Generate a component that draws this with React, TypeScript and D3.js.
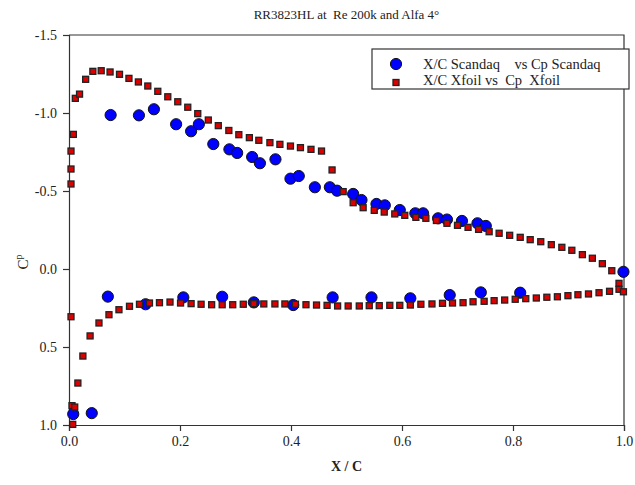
import React, { useEffect, useRef } from 'react';
import * as d3 from 'd3';

// Scandaq measurements (X/C, Cp)
const scandaqX = [0.075, 0.126, 0.153, 0.193, 0.220, 0.234, 0.260, 0.289, 0.303, 0.330, 0.344, 0.372, 0.399, 0.414, 0.443, 0.470, 0.483, 0.512, 0.527, 0.554, 0.569, 0.596, 0.624, 0.638, 0.665, 0.681, 0.708, 0.736, 0.751, 0.999,
  0.0076, 0.041, 0.070, 0.138, 0.206, 0.276, 0.333, 0.404, 0.475, 0.545, 0.615, 0.686, 0.742, 0.813];
const scandaqCp = [-0.987, -0.985, -1.024, -0.928, -0.883, -0.928, -0.801, -0.767, -0.744, -0.718, -0.678, -0.703, -0.579, -0.596, -0.524, -0.524, -0.502, -0.481, -0.442, -0.417, -0.408, -0.378, -0.357, -0.357, -0.325, -0.317, -0.308, -0.293, -0.276, 0.018,
  0.93, 0.924, 0.177, 0.226, 0.182, 0.178, 0.214, 0.231, 0.182, 0.182, 0.188, 0.167, 0.15, 0.152];

// Xfoil prediction (X/C, Cp)
const xfoilX = [0.0036, 0.0036, 0.0036, 0.0079, 0.0114, 0.019, 0.030, 0.043, 0.058, 0.074, 0.091, 0.108, 0.125, 0.142, 0.160, 0.178, 0.196, 0.214, 0.232, 0.251, 0.269, 0.288, 0.306, 0.325, 0.342, 0.362, 0.380, 0.399, 0.417, 0.436, 0.455, 0.474, 0.494, 0.512, 0.530, 0.550, 0.568, 0.587, 0.605, 0.625, 0.643, 0.662, 0.681, 0.700, 0.719, 0.738, 0.757, 0.775, 0.794, 0.813, 0.831, 0.850, 0.869, 0.888, 0.906, 0.925, 0.943, 0.961, 0.978, 0.991,
  0.0036, 0.0067, 0.0054, 0.0103, 0.016, 0.025, 0.038, 0.054, 0.072, 0.090, 0.109, 0.127, 0.145, 0.163, 0.182, 0.201, 0.220, 0.238, 0.257, 0.276, 0.295, 0.314, 0.333, 0.351, 0.371, 0.389, 0.408, 0.427, 0.446, 0.465, 0.484, 0.503, 0.523, 0.541, 0.559, 0.578, 0.596, 0.615, 0.634, 0.654, 0.673, 0.691, 0.710, 0.728, 0.748, 0.766, 0.785, 0.804, 0.823, 0.842, 0.861, 0.880, 0.899, 0.917, 0.936, 0.955, 0.974, 0.991, 0.999];
const xfoilCp = [-0.545, -0.641, -0.756, -0.863, -1.094, -1.121, -1.216, -1.267, -1.271, -1.263, -1.248, -1.222, -1.199, -1.173, -1.139, -1.104, -1.072, -1.037, -0.996, -0.955, -0.919, -0.888, -0.861, -0.842, -0.825, -0.810, -0.799, -0.788, -0.778, -0.767, -0.756, -0.635, -0.496, -0.425, -0.393, -0.376, -0.365, -0.353, -0.344, -0.331, -0.325, -0.311, -0.293, -0.280, -0.267, -0.254, -0.239, -0.229, -0.216, -0.203, -0.188, -0.175, -0.156, -0.139, -0.120, -0.092, -0.069, -0.034, 0.011, 0.092,
  0.306, 0.996, 0.876, 0.885, 0.731, 0.558, 0.429, 0.346, 0.293, 0.261, 0.239, 0.226, 0.218, 0.216, 0.212, 0.218, 0.222, 0.226, 0.229, 0.229, 0.229, 0.226, 0.222, 0.224, 0.224, 0.224, 0.226, 0.229, 0.231, 0.233, 0.237, 0.237, 0.237, 0.235, 0.235, 0.233, 0.233, 0.231, 0.226, 0.224, 0.220, 0.218, 0.216, 0.210, 0.207, 0.203, 0.199, 0.194, 0.190, 0.186, 0.181, 0.178, 0.171, 0.165, 0.160, 0.152, 0.143, 0.130, 0.146];

const xTicks = [0, 0.2, 0.4, 0.6, 0.8, 1.0];
const yTicks = [-1.5, -1.0, -0.5, 0, 0.5, 1.0];
const legendLabels = ['X/C Scandaq    vs Cp Scandaq', 'X/C Xfoil vs  Cp  Xfoil'];

export default function App() {
  const svgRef = useRef(null);

  useEffect(() => {
    const width = 635, height = 485;
    const left = 69, right = 624, top = 35, bottom = 425;
    const font = '"Liberation Serif", "Times New Roman", serif';
    const fmt = (d) => d3.format('.1f')(d).replace('\u2212', '-');

    const svg = d3.select(svgRef.current);
    svg.selectAll('*').remove();
    svg.attr('width', width).attr('height', height);

    const x = d3.scaleLinear().domain([0, 1]).range([left, right]);
    const y = d3.scaleLinear().domain([-1.5, 1.0]).range([top, bottom]);

    // frame (top and right)
    svg.append('path')
      .attr('d', `M${left},${top}H${right}V${bottom}`)
      .attr('fill', 'none').attr('stroke', '#333').attr('stroke-width', 1.2);

    const xAxis = svg.append('g').attr('transform', `translate(0,${bottom})`)
      .call(d3.axisBottom(x).tickValues(xTicks).tickFormat(fmt).tickSize(6).tickPadding(5));
    const yAxis = svg.append('g').attr('transform', `translate(${left},0)`)
      .call(d3.axisLeft(y).tickValues(yTicks).tickFormat(fmt).tickSize(6).tickPadding(6));
    [xAxis, yAxis].forEach(g => {
      g.select('.domain').attr('stroke', '#333').attr('stroke-width', 1.2);
      g.selectAll('line').attr('stroke', '#333').attr('stroke-width', 1.2);
      g.selectAll('text').attr('font-family', font).attr('font-size', 14).attr('fill', '#222');
    });
    yAxis.selectAll('text').attr('dy', '0.35em');

    // Scandaq circles
    svg.append('g').selectAll('circle')
      .data(scandaqX.map((d, i) => [d, scandaqCp[i]]))
      .join('circle')
      .attr('cx', d => x(d[0])).attr('cy', d => y(d[1])).attr('r', 5.6)
      .attr('fill', '#0000ff').attr('stroke', '#111').attr('stroke-width', 1);

    // Xfoil squares
    const s = 6;
    svg.append('g').selectAll('rect')
      .data(xfoilX.map((d, i) => [d, xfoilCp[i]]))
      .join('rect')
      .attr('x', d => x(d[0]) - s / 2).attr('y', d => y(d[1]) - s / 2)
      .attr('width', s).attr('height', s)
      .attr('fill', '#dd0000').attr('stroke', '#222').attr('stroke-width', 1.3);

    // title
    svg.append('text')
      .attr('x', (left + right) / 2).attr('y', 19)
      .attr('text-anchor', 'middle').attr('font-family', font).attr('font-size', 13).attr('fill', '#222')
      .style('white-space', 'pre')
      .text('RR3823HL at  Re 200k and Alfa 4°');

    // x label
    svg.append('text')
      .attr('x', (left + right) / 2).attr('y', 471)
      .attr('text-anchor', 'middle').attr('font-family', font).attr('font-size', 14).attr('font-weight', 'bold').attr('fill', '#222')
      .style('white-space', 'pre')
      .text('X / C');

    // y label
    const yl = svg.append('text')
      .attr('transform', 'translate(28,262) rotate(-90)')
      .attr('text-anchor', 'middle').attr('font-family', font).attr('font-size', 15).attr('fill', '#222');
    yl.append('tspan').text('C');
    yl.append('tspan').attr('font-size', 10).attr('dy', -6).text('p');

    // legend
    const lg = svg.append('g');
    lg.append('rect').attr('x', 372).attr('y', 49).attr('width', 257).attr('height', 40)
      .attr('fill', 'white').attr('stroke', '#333').attr('stroke-width', 1.2);
    lg.append('circle').attr('cx', 396).attr('cy', 64).attr('r', 5.6)
      .attr('fill', '#0000ff').attr('stroke', '#111').attr('stroke-width', 1);
    lg.append('rect').attr('x', 396 - s / 2).attr('y', 82.5 - s / 2).attr('width', s).attr('height', s)
      .attr('fill', '#dd0000').attr('stroke', '#222').attr('stroke-width', 1.3);
    lg.selectAll('text.lab').data(legendLabels).join('text')
      .attr('class', 'lab')
      .attr('x', 423).attr('y', (d, i) => 69 + i * 16)
      .attr('font-family', font).attr('font-size', 14.5).attr('fill', '#222')
      .style('white-space', 'pre')
      .text(d => d);
  }, []);

  return (
    <div style={{ position: 'absolute', left: 0, top: 0 }}>
      <svg ref={svgRef}></svg>
    </div>
  );
}
